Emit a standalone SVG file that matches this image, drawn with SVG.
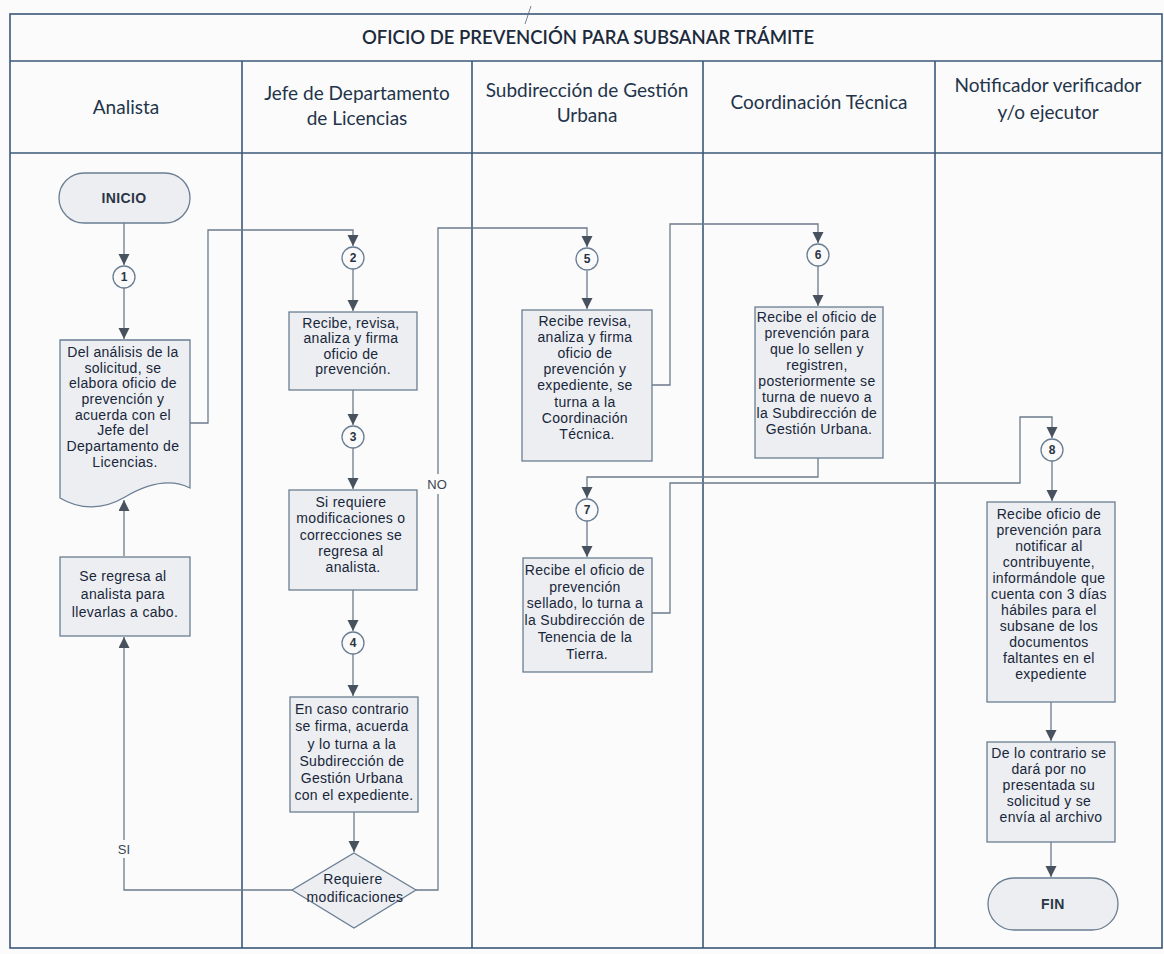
<svg xmlns="http://www.w3.org/2000/svg" width="1164" height="954" viewBox="0 0 1164 954">
  <defs>
    <style>
      .frame { fill: none; stroke: #3b5878; stroke-width: 1.6; }
      .box { fill: #eceef1; stroke: #6a7e93; stroke-width: 1.3; }
      .circ { fill: #fafafa; stroke: #6a7e93; stroke-width: 1.3; }
      .conn { fill: none; stroke: #6b7b8c; stroke-width: 1.3; }
      .t { font-family: "Liberation Sans", Arial, sans-serif; font-size: 14px; letter-spacing: 0.3px; fill: #18263a; text-anchor: middle; }
      .term { font-family: "Liberation Sans", Arial, sans-serif; font-size: 14px; font-weight: bold; letter-spacing: 0.4px; fill: #2a3646; text-anchor: middle; }
      .n { font-family: "Liberation Sans", Arial, sans-serif; font-size: 12px; font-weight: bold; fill: #2a3442; text-anchor: middle; }
      .h { font-family: Lato, "Open Sans", sans-serif; font-size: 19px; fill: #23344a; text-anchor: middle; }
      .title { font-family: Lato, "Open Sans", sans-serif; font-size: 18.5px; font-weight: 600; fill: #1c2a3c; text-anchor: middle; }
      .lbl { font-family: "Liberation Sans", Arial, sans-serif; font-size: 13px; fill: #3a4654; text-anchor: middle; }
    </style>
    <marker id="arrow" markerUnits="userSpaceOnUse" markerWidth="12" markerHeight="12" refX="11" refY="5.5" orient="auto">
      <path d="M0,0 L11,5.5 L0,11 Z" fill="#47525e"/>
    </marker>
  </defs>

  <rect width="1164" height="954" fill="#fbfbfb"/>

  <!-- swimlane frame -->
  <g id="frame">
    <rect class="frame" x="10" y="14" width="1152" height="934"/>
    <line class="frame" x1="10" y1="61" x2="1162" y2="61"/>
    <line class="frame" x1="10" y1="153" x2="1162" y2="153"/>
    <line class="frame" x1="242" y1="61" x2="242" y2="948"/>
    <line class="frame" x1="472" y1="61" x2="472" y2="948"/>
    <line class="frame" x1="703" y1="61" x2="703" y2="948"/>
    <line class="frame" x1="935" y1="61" x2="935" y2="948"/>
    <line x1="525" y1="24" x2="531" y2="6" stroke="#55657a" stroke-width="0.8"/>
    <text class="title" x="588" y="44">OFICIO DE PREVENCIÓN PARA SUBSANAR TRÁMITE</text>
    <text class="h" x="126" y="114">Analista</text>
    <text class="h" x="357" y="100">Jefe de Departamento</text>
    <text class="h" x="357" y="125">de Licencias</text>
    <text class="h" x="587" y="97">Subdirección de Gestión</text>
    <text class="h" x="587" y="122">Urbana</text>
    <text class="h" x="819" y="109">Coordinación Técnica</text>
    <text class="h" x="1048" y="92">Notificador verificador</text>
    <text class="h" x="1048" y="119">y/o ejecutor</text>
  </g>

  <!-- connectors -->
  <g id="connectors">
    <path class="conn" d="M124,223 V265" marker-end="url(#arrow)"/>
    <path class="conn" d="M124,288 V339" marker-end="url(#arrow)"/>
    <path class="conn" d="M190,423 H208 V230 H353 V246" marker-end="url(#arrow)"/>
    <path class="conn" d="M353,269 V311" marker-end="url(#arrow)"/>
    <path class="conn" d="M353,390 V425" marker-end="url(#arrow)"/>
    <path class="conn" d="M353,448 V489" marker-end="url(#arrow)"/>
    <path class="conn" d="M353,590 V631" marker-end="url(#arrow)"/>
    <path class="conn" d="M353,654 V696" marker-end="url(#arrow)"/>
    <path class="conn" d="M354,812 V852" marker-end="url(#arrow)"/>
    <path class="conn" d="M124,556 V500" marker-end="url(#arrow)"/>
    <!-- SI branch -->
    <path class="conn" d="M292,890 H124 V858"/>
    <path class="conn" d="M124,840 V637" marker-end="url(#arrow)"/>
    <text class="lbl" x="124" y="854">SI</text>
    <!-- NO branch -->
    <path class="conn" d="M416,890 H438 V494"/>
    <path class="conn" d="M438,474 V228 H587 V247" marker-end="url(#arrow)"/>
    <text class="lbl" x="437" y="489">NO</text>
    <path class="conn" d="M587,271 V309" marker-end="url(#arrow)"/>
    <path class="conn" d="M652,385 H670 V224 H818 V243" marker-end="url(#arrow)"/>
    <path class="conn" d="M818,266 V306" marker-end="url(#arrow)"/>
    <path class="conn" d="M818,458 V477 H587 V498" marker-end="url(#arrow)"/>
    <path class="conn" d="M587,521 V557" marker-end="url(#arrow)"/>
    <path class="conn" d="M652,613 H670 V483 H1020 V417 H1052 V438" marker-end="url(#arrow)"/>
    <path class="conn" d="M1052,461 V501" marker-end="url(#arrow)"/>
    <path class="conn" d="M1051,702 V741" marker-end="url(#arrow)"/>
    <path class="conn" d="M1051,842 V877" marker-end="url(#arrow)"/>
  </g>

  <!-- Analista -->
  <g id="inicio">
    <rect class="box" x="59" y="173" width="131" height="50" rx="25"/>
    <text class="term" x="124" y="203">INICIO</text>
  </g>
  <g id="c1">
    <circle class="circ" cx="124" cy="277" r="11"/>
    <text class="n" x="124" y="281">1</text>
  </g>
  <g id="analisis">
    <path class="box" d="M60,340 H190 V488 C170,478 147,484 125,497 C103,510 80,510 60,498 Z"/>
    <text class="t">
      <tspan x="125" y="357">Del análisis de la</tspan>
      <tspan x="125" y="373">solicitud, se</tspan>
      <tspan x="125" y="388">elabora oficio de</tspan>
      <tspan x="125" y="404">prevención y</tspan>
      <tspan x="125" y="420">acuerda con el</tspan>
      <tspan x="125" y="435">Jefe del</tspan>
      <tspan x="125" y="451">Departamento de</tspan>
      <tspan x="125" y="467">Licencias.</tspan>
    </text>
  </g>
  <g id="regresa">
    <rect class="box" x="60" y="557" width="130" height="79"/>
    <text class="t">
      <tspan x="125" y="581">Se regresa al</tspan>
      <tspan x="125" y="599">analista para</tspan>
      <tspan x="125" y="617">llevarlas a cabo.</tspan>
    </text>
  </g>

  <!-- Jefe de Departamento de Licencias -->
  <g id="c2">
    <circle class="circ" cx="353" cy="258" r="11"/>
    <text class="n" x="353" y="262">2</text>
  </g>
  <g id="revisa">
    <rect class="box" x="289" y="312" width="128" height="78"/>
    <text class="t">
      <tspan x="353" y="328">Recibe, revisa,</tspan>
      <tspan x="353" y="343">analiza y firma</tspan>
      <tspan x="353" y="359">oficio de</tspan>
      <tspan x="353" y="374">prevención.</tspan>
    </text>
  </g>
  <g id="c3">
    <circle class="circ" cx="353" cy="437" r="11"/>
    <text class="n" x="353" y="441">3</text>
  </g>
  <g id="requiere">
    <rect class="box" x="289" y="490" width="128" height="100"/>
    <text class="t">
      <tspan x="353" y="507">Si requiere</tspan>
      <tspan x="353" y="523">modificaciones o</tspan>
      <tspan x="353" y="540">correcciones se</tspan>
      <tspan x="353" y="556">regresa al</tspan>
      <tspan x="353" y="572">analista.</tspan>
    </text>
  </g>
  <g id="c4">
    <circle class="circ" cx="353" cy="643" r="11"/>
    <text class="n" x="353" y="647">4</text>
  </g>
  <g id="contrario">
    <rect class="box" x="290" y="697" width="128" height="115"/>
    <text class="t">
      <tspan x="354" y="714">En caso contrario</tspan>
      <tspan x="354" y="731">se firma, acuerda</tspan>
      <tspan x="354" y="749">y lo turna a la</tspan>
      <tspan x="354" y="766">Subdirección de</tspan>
      <tspan x="354" y="783">Gestión Urbana</tspan>
      <tspan x="354" y="800">con el expediente.</tspan>
    </text>
  </g>
  <g id="decision">
    <polygon class="box" points="354,853 416,890 354,928 292,890"/>
    <text class="t">
      <tspan x="355" y="884">Requiere</tspan>
      <tspan x="355" y="902">modificaciones</tspan>
    </text>
  </g>

  <!-- Subdirección de Gestión Urbana -->
  <g id="c5">
    <circle class="circ" cx="587" cy="259" r="11"/>
    <text class="n" x="587" y="263">5</text>
  </g>
  <g id="firma">
    <rect class="box" x="522" y="310" width="130" height="151"/>
    <text class="t">
      <tspan x="587" y="326">Recibe revisa,</tspan>
      <tspan x="587" y="342">analiza y firma</tspan>
      <tspan x="587" y="358">oficio de</tspan>
      <tspan x="587" y="374">prevención y</tspan>
      <tspan x="587" y="390">expediente, se</tspan>
      <tspan x="587" y="407">turna a la</tspan>
      <tspan x="587" y="423">Coordinación</tspan>
      <tspan x="587" y="439">Técnica.</tspan>
    </text>
  </g>
  <g id="c7">
    <circle class="circ" cx="587" cy="510" r="11"/>
    <text class="n" x="587" y="514">7</text>
  </g>
  <g id="sellado">
    <rect class="box" x="523" y="558" width="129" height="114"/>
    <text class="t">
      <tspan x="587" y="575">Recibe el oficio de</tspan>
      <tspan x="587" y="592">prevención</tspan>
      <tspan x="587" y="608">sellado, lo turna a</tspan>
      <tspan x="587" y="625">la Subdirección de</tspan>
      <tspan x="587" y="642">Tenencia de la</tspan>
      <tspan x="587" y="659">Tierra.</tspan>
    </text>
  </g>

  <!-- Coordinación Técnica -->
  <g id="c6">
    <circle class="circ" cx="818" cy="255" r="11"/>
    <text class="n" x="818" y="259">6</text>
  </g>
  <g id="sellar">
    <rect class="box" x="755" y="307" width="128" height="151"/>
    <text class="t">
      <tspan x="819" y="322">Recibe el oficio de</tspan>
      <tspan x="819" y="338">prevención para</tspan>
      <tspan x="819" y="354">que lo sellen y</tspan>
      <tspan x="819" y="370">registren,</tspan>
      <tspan x="819" y="386">posteriormente se</tspan>
      <tspan x="819" y="402">turna de nuevo a</tspan>
      <tspan x="819" y="418">la Subdirección de</tspan>
      <tspan x="819" y="434">Gestión Urbana.</tspan>
    </text>
  </g>

  <!-- Notificador verificador y/o ejecutor -->
  <g id="c8">
    <circle class="circ" cx="1052" cy="450" r="11"/>
    <text class="n" x="1052" y="454">8</text>
  </g>
  <g id="notificar">
    <rect class="box" x="987" y="502" width="128" height="200"/>
    <text class="t">
      <tspan x="1051" y="519">Recibe oficio de</tspan>
      <tspan x="1051" y="535">prevención para</tspan>
      <tspan x="1051" y="551">notificar al</tspan>
      <tspan x="1051" y="567">contribuyente,</tspan>
      <tspan x="1051" y="583">informándole que</tspan>
      <tspan x="1051" y="599">cuenta con 3 días</tspan>
      <tspan x="1051" y="615">hábiles para el</tspan>
      <tspan x="1051" y="631">subsane de los</tspan>
      <tspan x="1051" y="647">documentos</tspan>
      <tspan x="1051" y="663">faltantes en el</tspan>
      <tspan x="1051" y="679">expediente</tspan>
    </text>
  </g>
  <g id="archivo">
    <rect class="box" x="987" y="742" width="128" height="100"/>
    <text class="t">
      <tspan x="1051" y="758">De lo contrario se</tspan>
      <tspan x="1051" y="774">dará por no</tspan>
      <tspan x="1051" y="790">presentada su</tspan>
      <tspan x="1051" y="806">solicitud y se</tspan>
      <tspan x="1051" y="822">envía al archivo</tspan>
    </text>
  </g>
  <g id="fin">
    <rect class="box" x="988" y="878" width="130" height="52" rx="26"/>
    <text class="term" x="1053" y="909">FIN</text>
  </g>
</svg>
